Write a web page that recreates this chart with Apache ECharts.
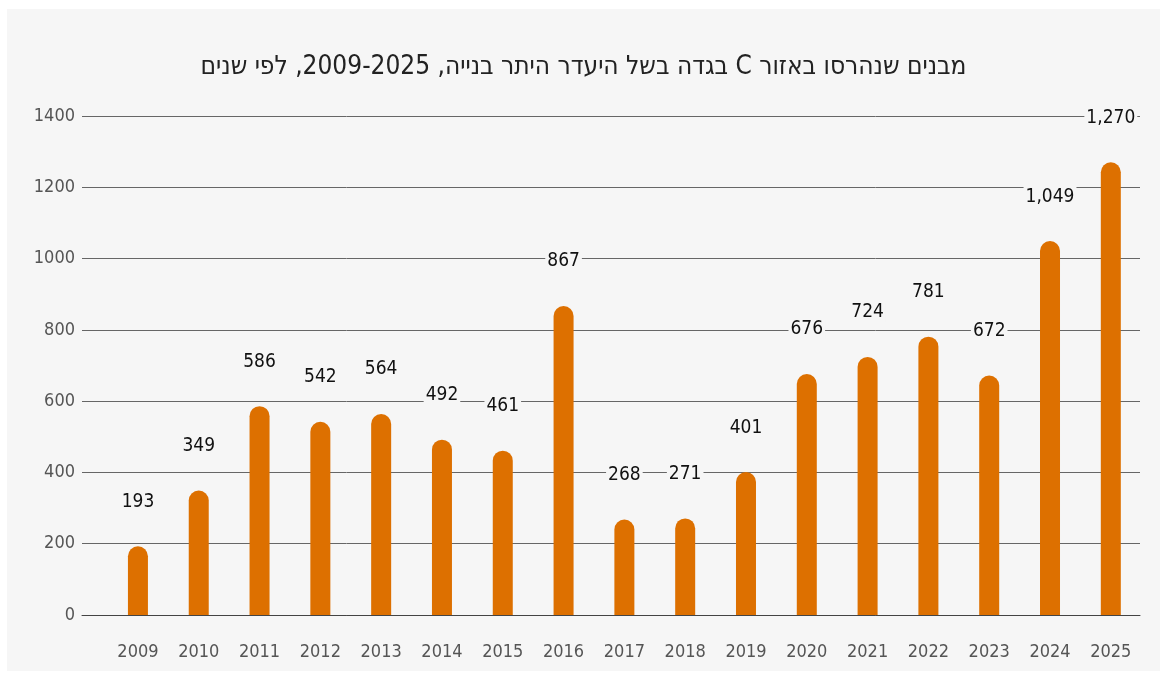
<!DOCTYPE html>
<html>
<head>
<meta charset="utf-8">
<script src="https://cdn.jsdelivr.net/npm/echarts@6/dist/echarts.min.js"></script>
<style>
  html, body { margin: 0; padding: 0; background: #ffffff; }
  #panel { position: absolute; left: 7px; top: 9px; width: 1153px; height: 662px; background: #f6f6f6; }
  #main { position: absolute; left: 0; top: 0; width: 1167px; height: 678px; }
</style>
</head>
<body>
<div id="panel"></div>
<!-- כיוון rtl כדי שהכותרת בעברית תוצג נכון -->
<div id="main" dir="rtl"></div>
<script>
// נתונים
const years = [2009, 2010, 2011, 2012, 2013, 2014, 2015, 2016, 2017, 2018, 2019, 2020, 2021, 2022, 2023, 2024, 2025]
const demolished = [193, 349, 586, 542, 564, 492, 461, 867, 268, 271, 401, 676, 724, 781, 672, 1049, 1270]
const yTicks = [0, 200, 400, 600, 800, 1000, 1200, 1400]
const titleText = 'מבנים שנהרסו באזור C בגדה בשל היעדר היתר בנייה, 2009-2025, לפי שנים'

const font = '"DejaVu Sans Condensed", "Liberation Sans Narrow", "DejaVu Sans", sans-serif'
const chart = echarts.init(document.getElementById('main'))

const option = {
  backgroundColor: 'transparent',
  animation: false,
  title: {
    text: titleText,
    left: 'center',
    top: 49,
    textStyle: {
      fontFamily: font,
      fontSize: 26,
      fontWeight: 'normal',
      color: '#222'
    }
  },
  grid: {
    left: 82,
    right: 27,
    top: 116,
    bottom: 63
  },
  xAxis: {
    type: 'value',
    // שנים על ציר מספרי כדי שהעמודות יישבו כמו במקור
    min: 2008.08,
    max: 2025.48,
    splitLine: { show: false },
    axisLine: { show: true, lineStyle: { color: '#444', width: 1 } },
    axisTick: { show: false },
    axisLabel: {
      customValues: years,
      formatter: v => String(v),
      margin: 28,
      fontFamily: font,
      fontSize: 18,
      color: '#555'
    }
  },
  yAxis: {
    type: 'value',
    min: yTicks[0],
    max: yTicks[yTicks.length - 1],
    interval: 200,
    axisLine: { show: false },
    axisTick: { show: false },
    axisLabel: {
      margin: 7,
      formatter: v => String(v),
      fontFamily: font,
      fontSize: 18,
      color: '#555'
    },
    splitLine: {
      lineStyle: { color: '#666', width: 1 }
    }
  },
  series: [
    {
      type: 'bar',
      data: years.map((y, i) => [y, demolished[i]]),
      barWidth: 20,
      itemStyle: {
        color: '#dd7000',
        borderRadius: [10, 10, 0, 0]
      },
      label: {
        show: true,
        position: 'top',
        distance: 35,
        formatter: p => p.value[1].toLocaleString('en-US'),
        fontFamily: font,
        fontSize: 19,
        color: '#111',
        backgroundColor: '#f6f6f6',
        padding: [0, 2]
      }
    }
  ]
}

chart.setOption(option)
</script>
</body>
</html>
